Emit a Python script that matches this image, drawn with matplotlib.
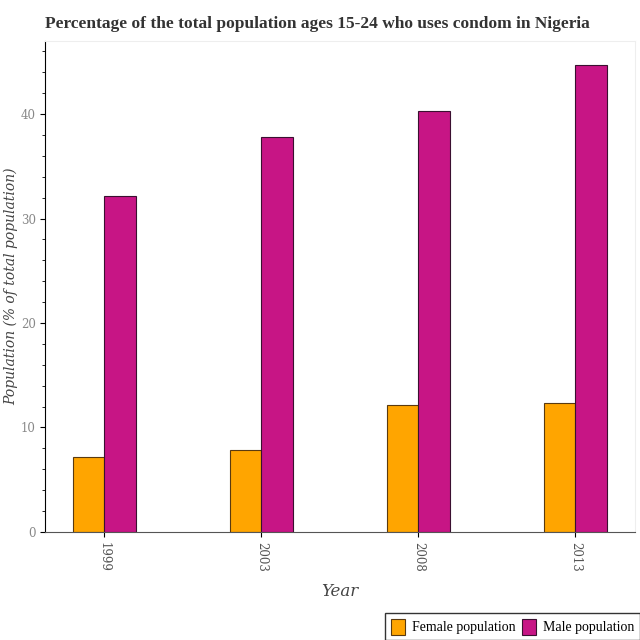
import matplotlib
matplotlib.use('Agg')
import matplotlib.pyplot as plt
import numpy as np
from matplotlib.ticker import MultipleLocator

# Данные
years = ['1999', '2003', '2008', '2013']
female = [7.2, 7.8, 12.1, 12.3]
male = [32.2, 37.8, 40.3, 44.7]

plt.rcParams['font.family'] = ['DejaVu Serif']

fig = plt.figure(figsize=(6.4, 6.4), dpi=100)
ax = fig.add_axes([0.07, 0.169, 0.922, 0.767])

x = np.arange(len(years))
w = 0.2
ax.bar(x - w/2, female, width=w, color='#FFA500', edgecolor='#5a3a10', linewidth=0.8, label='Female population')
ax.bar(x + w/2, male, width=w, color='#C71585', edgecolor='#3a1030', linewidth=0.8, label='Male population')

ax.set_xlim(-0.38, 3.38)
ax.set_ylim(0, 47)
ax.set_xticks(x)
ax.set_xticklabels(years, rotation=270, fontsize=8.5, color='#555555')
ax.yaxis.set_major_locator(MultipleLocator(10))
ax.yaxis.set_minor_locator(MultipleLocator(2))
ax.tick_params(axis='y', labelsize=8.5, labelcolor='#888888', pad=3)

ax.spines['left'].set_color('black')
ax.spines['bottom'].set_color('#555555')
ax.spines['top'].set_color('#eeeeee')
ax.spines['right'].set_color('#eeeeee')

ax.set_xlabel('Year', fontsize=12, style='italic', color='#444444', labelpad=8)
ax.set_ylabel('Population (% of total population)', fontsize=10, style='italic', color='#444444')
ax.yaxis.set_label_coords(-0.045, 0.5)
ax.set_title('Percentage of the total population ages 15-24 who uses condom in Nigeria',
             loc='left', fontsize=12.5, fontweight='bold', family='Liberation Serif', color='#333333', pad=9)

fig.legend(loc='upper right', bbox_to_anchor=(1.0, 0.042), ncol=2, borderaxespad=0,
           prop={'family': 'Liberation Serif', 'size': 10},
           frameon=True, fancybox=False, edgecolor='black', handlelength=1.0, handleheight=1.4,
           columnspacing=0.5, handletextpad=0.5)

fig.savefig('out.png', dpi=100)
